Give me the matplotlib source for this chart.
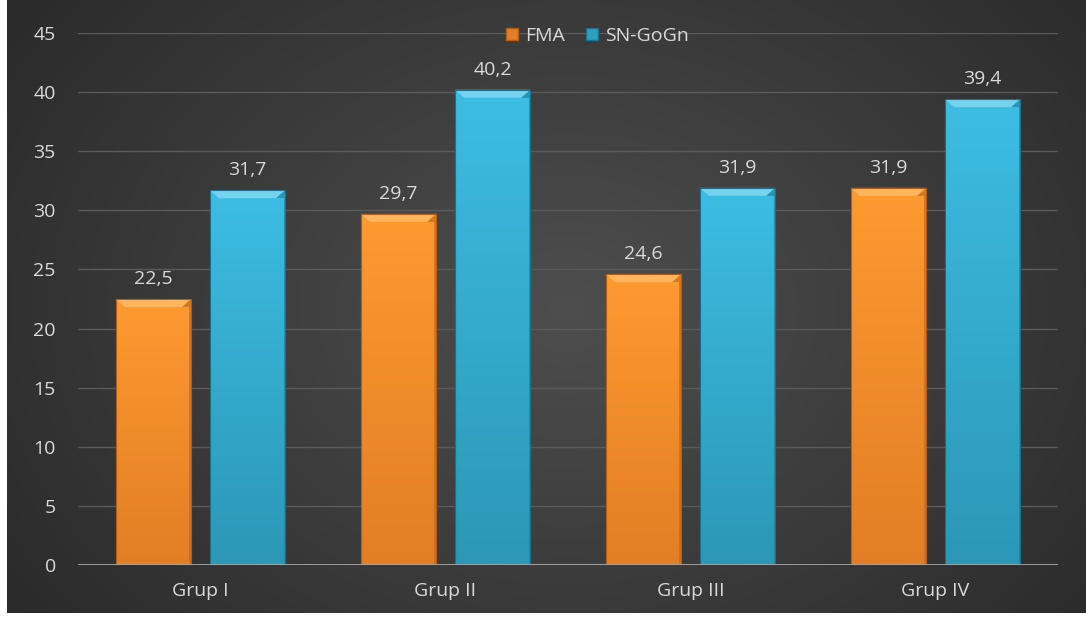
import numpy as np
import matplotlib
matplotlib.use("Agg")
import matplotlib.pyplot as plt
from matplotlib.colors import LinearSegmentedColormap
from matplotlib.patches import Polygon, Rectangle
from matplotlib.lines import Line2D

categories = ["Grup I", "Grup II", "Grup III", "Grup IV"]
series_names = ["FMA", "SN-GoGn"]
fma = [22.5, 29.7, 24.6, 31.9]
sngogn = [31.7, 40.2, 31.9, 39.4]
yticks = [0, 5, 10, 15, 20, 25, 30, 35, 40, 45]

plt.rcParams['font.family'] = ['Open Sans', 'DejaVu Sans']
W, H = 1086, 619
fig = plt.figure(figsize=(W / 100, H / 100), dpi=100, facecolor="white")
FS = 14

# background with radial gradient
bg = fig.add_axes([7 / W, 6 / H, 1 - 7 / W, 1 - 6 / H])
bg.set_axis_off()
yy, xx = np.mgrid[0:300, 0:540]
cx, cy = 280, 150
r = np.sqrt(((xx - cx) / 310) ** 2 + ((yy - cy) / 230) ** 2)
r = np.clip(r, 0, 1.3) / 1.3
c_in = np.array([0x4e, 0x4e, 0x4e]) / 255
c_out = np.array([0x24, 0x24, 0x24]) / 255
img = c_in[None, None, :] * (1 - r[..., None]) + c_out[None, None, :] * r[..., None]
bg.imshow(img, aspect="auto", extent=[0, 1, 0, 1], interpolation="bilinear")
bg.set_xlim(0, 1)
bg.set_ylim(0, 1)

ax = fig.add_axes([78 / W, (H - 565) / H, (1058 - 78) / W, (565 - 33) / H])
ax.patch.set_alpha(0)
ax.set_xlim(-0.5, 3.5)
ax.set_ylim(0, 45)
for s in ax.spines.values():
    s.set_visible(False)
ax.set_yticks(yticks)
ax.set_yticklabels([str(t) for t in yticks])
ax.yaxis.grid(True, color="#5a5a5a", linewidth=1.0)
ax.set_axisbelow(True)
ax.tick_params(axis="both", length=0, colors="#d9d9d9", labelsize=FS)
ax.tick_params(axis="y", pad=16)
ax.tick_params(axis="x", pad=12)
ax.set_xticks(range(len(categories)))
ax.set_xticklabels(categories)
ax.axhline(0, color="#a6a6a6", linewidth=2.0, zorder=4)

x = np.arange(len(categories))
bw = 0.306
off = 0.192
styles = [
    dict(top="#fd9a30", bot="#e27e25", bevel="#ffb55c", dark="#c86a1a", edge="#b35e14"),
    dict(top="#3dbde3", bot="#2c97b6", bevel="#74d3ef", dark="#2185a3", edge="#1c6f88"),
]

px_x = 4.0 / 980
px_y = 45.0 / 532

for si, (vals, st) in enumerate(zip([fma, sngogn], styles)):
    cmap = LinearSegmentedColormap.from_list("g", [st["bot"], st["top"]])
    for i, v in enumerate(vals):
        xc = x[i] + (-off if si == 0 else off)
        x0, x1 = xc - bw / 2, xc + bw / 2
        grad = np.linspace(0, 1, 256).reshape(-1, 1)
        im = ax.imshow(grad, cmap=cmap, aspect="auto", origin="lower",
                       extent=[x0, x1, 0, v], zorder=2.5)
        clip = Rectangle((x0, 0), bw, v, transform=ax.transData)
        im.set_clip_path(clip)
        dx = 9 * px_x
        dy = 8 * px_y
        top = Polygon([[x0, v], [x1, v], [x1 - dx, v - dy], [x0 + dx, v - dy]],
                      closed=True, facecolor=st["bevel"], edgecolor="none", zorder=3.2)
        ax.add_patch(top)
        right = Polygon([[x1, v], [x1, 0], [x1 - 1.5 * px_x, 0], [x1 - 1.5 * px_x, v - dy],
                         [x1 - dx, v - dy]],
                        closed=True, facecolor=st["dark"], edgecolor="none", zorder=3.1, alpha=0.7)
        ax.add_patch(right)
        rect = Rectangle((x0, 0), bw, v, facecolor="none", edgecolor=st["edge"],
                         linewidth=0.8, zorder=3.3)
        ax.add_patch(rect)
        ax.text(xc, v + 11 * px_y, f"{v:.1f}".replace(".", ","), ha="center", va="bottom",
                color="#d9d9d9", fontsize=FS, zorder=5)

handles = [
    Line2D([], [], marker="s", linestyle="none", markersize=9,
           markerfacecolor=styles[0]["bot"], markeredgecolor=styles[0]["edge"]),
    Line2D([], [], marker="s", linestyle="none", markersize=9,
           markerfacecolor="#2e9fc0", markeredgecolor=styles[1]["edge"]),
]
leg = fig.legend(handles, series_names, loc="center", bbox_to_anchor=(597 / W, 1 - 36 / H),
                 ncol=2, frameon=False, fontsize=FS, handlelength=0.7, handletextpad=0.35,
                 columnspacing=1.0, labelcolor="#d9d9d9")

fig.savefig("out.png", dpi=100, facecolor="white")
